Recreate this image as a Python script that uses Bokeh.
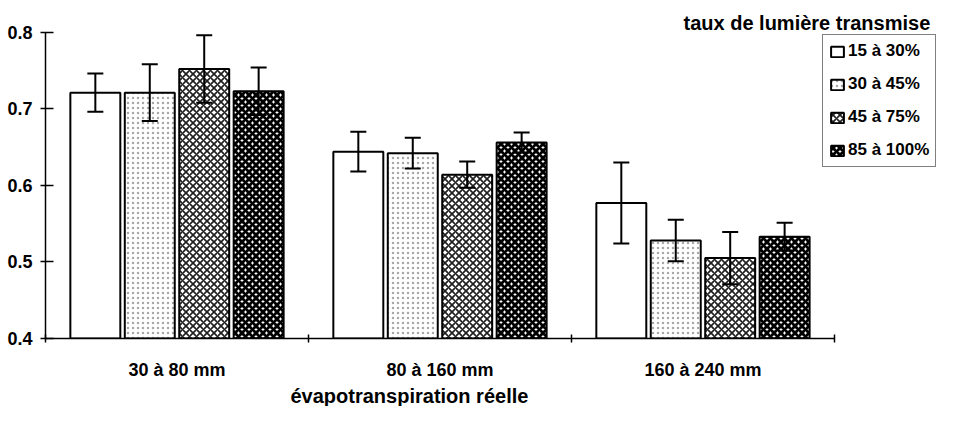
from bokeh.plotting import figure
from bokeh.models import (ColumnDataSource, FixedTicker, Whisker, TeeHead,
                          Legend, LegendItem, Label, Title)
from bokeh.embed import file_html
from bokeh.resources import INLINE

# ---- data ----
categories = ["30 à 80 mm", "80 à 160 mm", "160 à 240 mm"]
series = ["15 à 30%", "30 à 45%", "45 à 75%", "85 à 100%"]

v_15_30 = [0.721, 0.644, 0.577]
v_30_45 = [0.721, 0.642, 0.528]
v_45_75 = [0.752, 0.614, 0.505]
v_85_100 = [0.723, 0.656, 0.533]

err_15_30 = [0.025, 0.026, 0.053]
err_30_45 = [0.037, 0.020, 0.027]
err_45_75 = [0.044, 0.017, 0.034]
err_85_100 = [0.031, 0.013, 0.018]

y_ticks = [0.4, 0.5, 0.6, 0.7, 0.8]
x_title = "évapotranspiration réelle"
legend_title = "taux de lumière transmise"

values = [v_15_30, v_30_45, v_45_75, v_85_100]
errors = [err_15_30, err_30_45, err_45_75, err_85_100]

FONT = "Liberation Sans"
ncat = len(categories)

# frame extends over the legend area (right) and title area (top);
# axes are bounded to the data region
p = figure(width=941, height=406,
           x_range=(0, ncat + 0.407), y_range=(0.4, 0.8414),
           output_backend="svg", toolbar_location=None,
           min_border_left=45, min_border_right=0, min_border_top=0,
           min_border_bottom=65)
p.outline_line_color = None
p.xgrid.visible = False
p.ygrid.visible = False
p.background_fill_color = "white"
p.border_fill_color = "white"

styles = [
    dict(fill_color="white"),
    dict(fill_color="white", hatch_pattern="dot", hatch_color="#a8a8a8",
         hatch_scale=5, hatch_weight=1),
    dict(fill_color="white", hatch_pattern="diagonal_cross", hatch_color="#202020",
         hatch_scale=7, hatch_weight=1.7),
    dict(fill_color="white", hatch_pattern="diagonal_cross", hatch_color="black",
         hatch_scale=7, hatch_weight=2.9),
]

step = 0.207
bar_w = 0.19
items = []
for j, (name, vals, errs) in enumerate(zip(series, values, errors)):
    xs = [i + 0.5 + (j - 1.5) * step for i in range(ncat)]
    src = ColumnDataSource(dict(x=xs, top=vals,
                                upper=[v + e for v, e in zip(vals, errs)],
                                lower=[v - e for v, e in zip(vals, errs)]))
    r = p.vbar(x="x", top="top", bottom=0.4, width=bar_w, source=src,
               line_color="black", line_width=2, **styles[j])
    items.append(LegendItem(label=name, renderers=[r]))
    w = Whisker(source=src, base="x", upper="upper", lower="lower",
                line_color="black", line_width=2, level="annotation",
                upper_head=TeeHead(size=16, line_width=2, line_color="black"),
                lower_head=TeeHead(size=16, line_width=2, line_color="black"))
    p.add_layout(w)

# ---- axes ----
xa = p.xaxis[0]
xa.bounds = (0, ncat)
xa.ticker = FixedTicker(ticks=[i + 0.5 for i in range(ncat)],
                        minor_ticks=list(range(ncat + 1)))
xa.major_label_overrides = {i + 0.5: c for i, c in enumerate(categories)}
xa.major_tick_in = 0
xa.major_tick_out = 0
xa.minor_tick_in = 4
xa.minor_tick_out = 4
xa.minor_tick_line_color = "black"
xa.minor_tick_line_width = 1.5
xa.axis_line_color = "black"
xa.axis_line_width = 1.5
xa.major_label_standoff = 17
xa.major_label_text_font = FONT
xa.major_label_text_font_style = "bold"
xa.major_label_text_font_size = "18px"
xa.major_label_text_color = "black"

ya = p.yaxis[0]
ya.bounds = (y_ticks[0], y_ticks[-1])
ya.ticker = FixedTicker(ticks=y_ticks, minor_ticks=[])
ya.major_tick_in = 8
ya.major_tick_out = 5
ya.major_tick_line_color = "black"
ya.major_tick_line_width = 1.5
ya.axis_line_color = "black"
ya.axis_line_width = 1.5
ya.major_label_standoff = 8
ya.major_label_text_font = FONT
ya.major_label_text_font_style = "bold"
ya.major_label_text_font_size = "18px"
ya.major_label_text_color = "black"

# ---- legend ----
legend = Legend(items=items, location=(777, 171),
                border_line_color="black", border_line_width=1,
                background_fill_color="white", background_fill_alpha=1,
                padding=6, spacing=13, margin=0,
                glyph_width=16, glyph_height=13, label_height=16,
                label_standoff=3,
                label_text_font=FONT, label_text_font_style="bold",
                label_text_font_size="17px", label_text_color="black")
p.add_layout(legend, "center")

# ---- titles ----
p.add_layout(Label(x=683, y=22, x_units="canvas", y_units="canvas",
                   text=legend_title, text_font=FONT, text_font_style="bold",
                   text_font_size="20px", text_baseline="alphabetic",
                   text_color="black"))
p.add_layout(Title(text=x_title, align="left", offset=245, standoff=0,
                   text_font=FONT, text_font_style="bold",
                   text_font_size="20px", text_color="black"), "below")

open("out.html", "w").write(file_html(p, INLINE))
